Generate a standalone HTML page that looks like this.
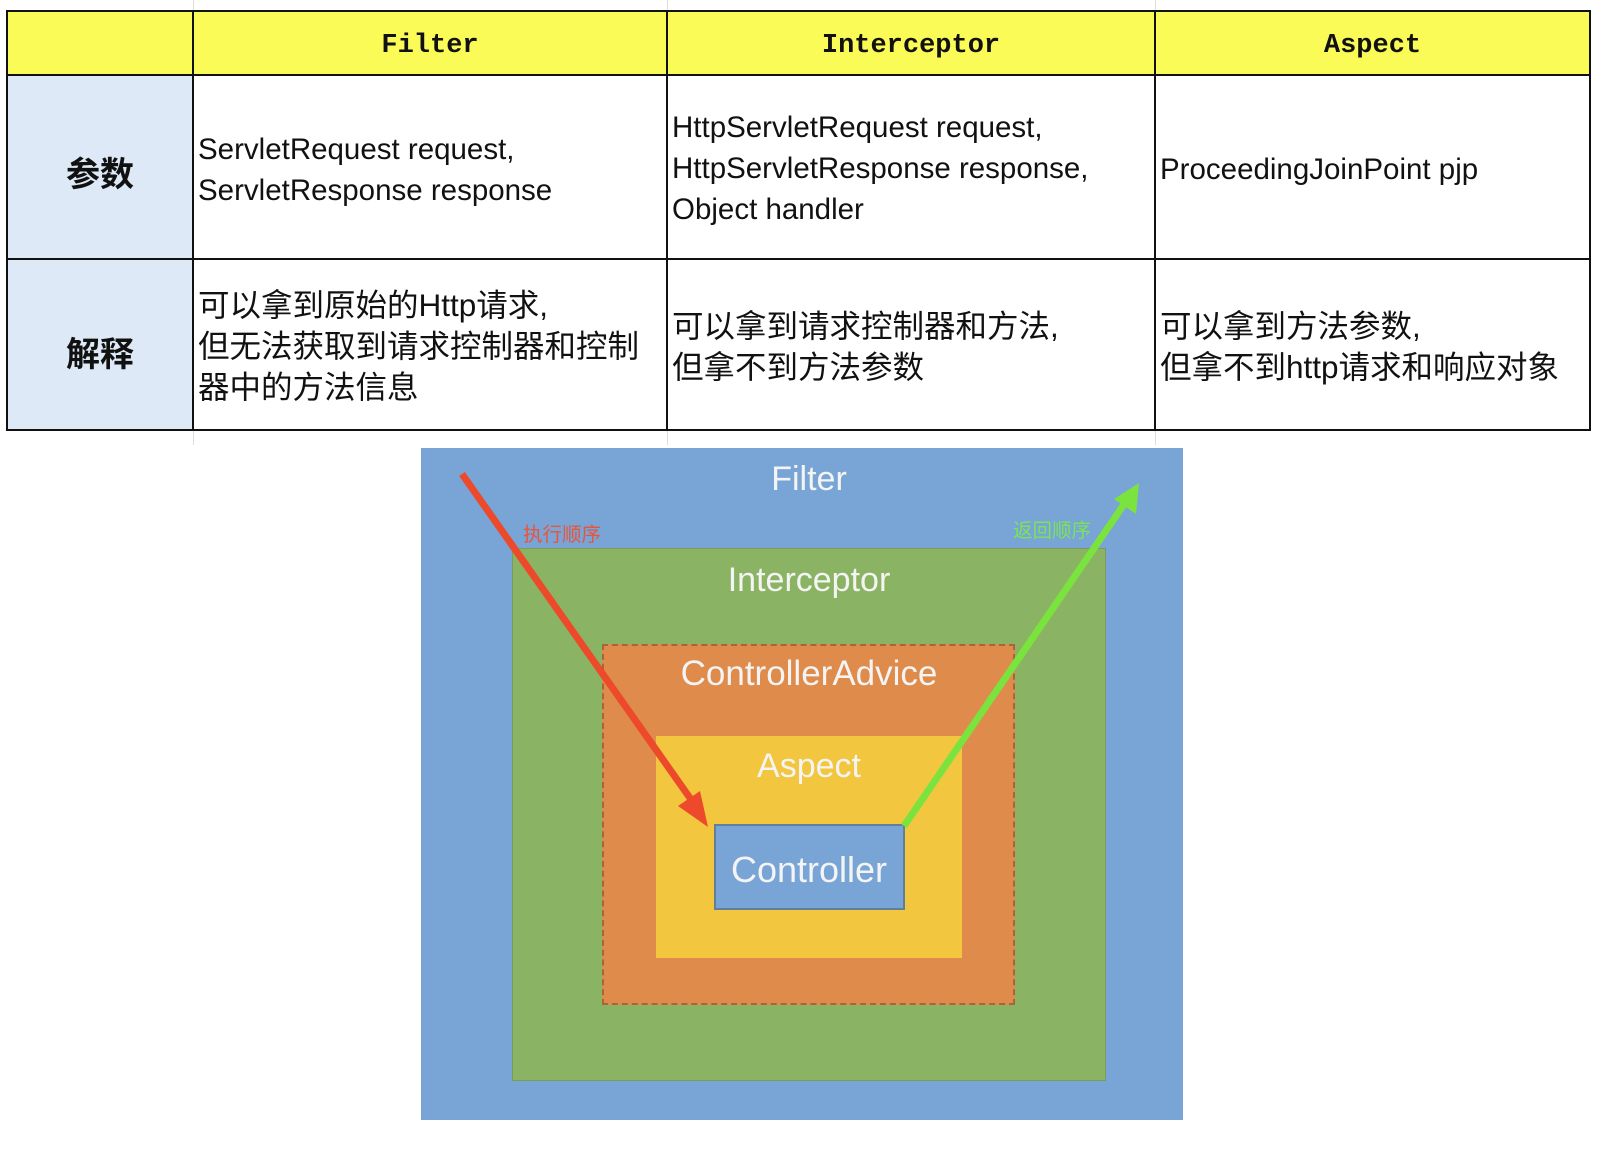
<!DOCTYPE html>
<html><head><meta charset="utf-8"><style>
body{margin:0;width:1606px;height:1158px;background:#fff;position:relative;overflow:hidden;font-family:"Liberation Sans","Noto Sans CJK SC",sans-serif}
.a{position:absolute}
.t{position:absolute;font-size:29.5px;line-height:41px;color:#111;white-space:nowrap}
.c{font-size:31.5px}
.h{position:absolute;top:14px;height:64px;line-height:64px;text-align:center;font-family:"Liberation Mono","Noto Sans CJK SC",monospace;font-weight:bold;font-size:27px;color:#111}
.rl{position:absolute;left:7px;width:186px;text-align:center;font-weight:bold;font-size:34px;color:#111}
.d{position:absolute;color:#f4f4f4;text-align:center;width:600px;left:509px}
</style></head><body>
<div class="a" style="left:193px;top:0;width:1px;height:445px;background:#ddd"></div>
<div class="a" style="left:667px;top:0;width:1px;height:445px;background:#ddd"></div>
<div class="a" style="left:1155px;top:0;width:1px;height:445px;background:#ddd"></div>
<div class="a" style="left:7px;top:11px;width:1583px;height:64px;background:#fbfb57"></div>
<div class="a" style="left:7px;top:75px;width:186px;height:355px;background:#dde9f6"></div>
<div class="a" style="left:7px;top:10px;width:1583px;height:2px;background:#111"></div>
<div class="a" style="left:7px;top:74px;width:1583px;height:2px;background:#111"></div>
<div class="a" style="left:7px;top:258px;width:1583px;height:2px;background:#111"></div>
<div class="a" style="left:7px;top:429px;width:1583px;height:2px;background:#111"></div>
<div class="a" style="left:6px;top:10px;width:2px;height:421px;background:#111"></div>
<div class="a" style="left:192px;top:10px;width:2px;height:421px;background:#111"></div>
<div class="a" style="left:666px;top:10px;width:2px;height:421px;background:#111"></div>
<div class="a" style="left:1154px;top:10px;width:2px;height:421px;background:#111"></div>
<div class="a" style="left:1589px;top:10px;width:2px;height:421px;background:#111"></div>
<div class="h" style="left:193px;width:474px">Filter</div>
<div class="h" style="left:667px;width:488px">Interceptor</div>
<div class="h" style="left:1155px;width:435px">Aspect</div>
<div class="rl" style="top:147px">参数</div>
<div class="rl" style="top:327px">解释</div>
<div class="t" style="left:198px;top:129px">ServletRequest request,<br>ServletResponse response</div>
<div class="t" style="left:672px;top:107px">HttpServletRequest request,<br>HttpServletResponse response,<br>Object handler</div>
<div class="t" style="left:1160px;top:149px">ProceedingJoinPoint pjp</div>
<div class="t c" style="left:198px;top:285px">可以拿到原始的Http请求,<br>但无法获取到请求控制器和控制<br>器中的方法信息</div>
<div class="t c" style="left:672px;top:306px">可以拿到请求控制器和方法,<br>但拿不到方法参数</div>
<div class="t c" style="left:1160px;top:306px">可以拿到方法参数,<br>但拿不到http请求和响应对象</div>
<div class="a" style="left:421px;top:448px;width:762px;height:672px;background:#79a4d6"></div>
<div class="a" style="left:513px;top:549px;width:592px;height:531px;background:#8bb364;box-shadow:0 0 0 1px #7a9c5a"></div>
<div class="a" style="left:602px;top:644px;width:409px;height:357px;background:#de8b4b;border:2px dashed #a8643a"></div>
<div class="a" style="left:656px;top:736px;width:306px;height:222px;background:#f3c63f"></div>
<div class="a" style="left:714px;top:824px;width:187px;height:82px;background:#79a4d6;border:2px solid #5f7f9c"></div>
<div class="d" style="top:460px;font-size:34px">Filter</div>
<div class="d" style="top:561px;font-size:34px">Interceptor</div>
<div class="d" style="top:654px;font-size:35px">ControllerAdvice</div>
<div class="d" style="top:747px;font-size:34px">Aspect</div>
<div class="d" style="top:849px;font-size:36px">Controller</div>
<div class="a" style="left:523px;top:518px;font-size:19.5px;color:#e8553a">执行顺序</div>
<div class="a" style="left:1013px;top:514px;font-size:19.5px;color:#7be35a">返回顺序</div>
<svg class="a" style="left:0;top:0" width="1606" height="1158">
<line x1="462" y1="474" x2="697" y2="808" stroke="#ec4a2a" stroke-width="7"/>
<polygon points="708,827 678,806 700,791" fill="#ec4a2a"/>
<line x1="904" y1="826" x2="1127" y2="500" stroke="#7be33e" stroke-width="7"/>
<polygon points="1139,483 1136,514 1114,499" fill="#7be33e"/>
</svg>
</body></html>
